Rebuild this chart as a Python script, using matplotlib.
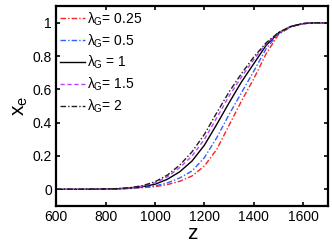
import numpy as np
import matplotlib
matplotlib.use('Agg')
from matplotlib import pyplot as plt

plt.rcParams['font.family'] = ['Liberation Sans', 'DejaVu Sans']
plt.rcParams['mathtext.fontset'] = 'custom'
plt.rcParams['mathtext.rm'] = 'Liberation Sans'
plt.rcParams['mathtext.it'] = 'Liberation Sans'

# values
z = [600, 700, 800, 850, 900, 950, 1000, 1050, 1100, 1150, 1200, 1250,
     1300, 1350, 1400, 1450, 1500, 1550, 1600, 1650, 1700]
xe_025 = [0, 0, 0.001, 0.002, 0.005, 0.010, 0.016, 0.028, 0.048, 0.080, 0.140,
          0.240, 0.385, 0.530, 0.665, 0.815, 0.930, 0.976, 0.995, 1.0, 1.0]
xe_05 = [0, 0, 0.001, 0.002, 0.006, 0.012, 0.020, 0.038, 0.068, 0.110, 0.190,
         0.310, 0.450, 0.580, 0.710, 0.845, 0.935, 0.978, 0.995, 1.0, 1.0]
xe_1 = [0, 0, 0.002, 0.003, 0.008, 0.016, 0.030, 0.060, 0.105, 0.170, 0.265,
        0.390, 0.520, 0.645, 0.755, 0.865, 0.940, 0.978, 0.995, 1.0, 1.0]
xe_15 = [0, 0, 0.002, 0.004, 0.009, 0.019, 0.038, 0.075, 0.130, 0.200, 0.300,
         0.430, 0.560, 0.675, 0.780, 0.875, 0.940, 0.978, 0.995, 1.0, 1.0]
xe_2 = [0, 0, 0.002, 0.004, 0.010, 0.022, 0.045, 0.085, 0.145, 0.225, 0.330,
        0.460, 0.585, 0.695, 0.795, 0.880, 0.942, 0.978, 0.995, 1.0, 1.0]

labels = [r'$\lambda_G$= 0.25', r'$\lambda_G$= 0.5', r'$\lambda_G$ = 1',
          r'$\lambda_G$= 1.5', r'$\lambda_G$= 2']
series = [xe_025, xe_05, xe_1, xe_15, xe_2]
colors = ['#ff2020', '#3060ff', 'black', '#c040ff', '#202020']
styles = [(0, (4, 1.5, 1, 1.5)), (0, (4, 1.5, 1, 1.5)), '-', (0, (3, 2)),
          (0, (4, 1.5, 1, 1.5))]

fig = plt.figure(figsize=(3.32, 2.44), dpi=100)
ax = fig.add_axes([0.169, 0.156, 0.819, 0.819])

for y, c, ls, lab in zip(series, colors, styles, labels):
    ax.plot(z, y, color=c, linestyle=ls, linewidth=1.0, label=lab)

ax.set_xlim(600, 1700)
ax.set_ylim(-0.1, 1.1)
ax.set_xticks([600, 800, 1000, 1200, 1400, 1600])
ax.set_yticks([0, 0.2, 0.4, 0.6, 0.8, 1])
ax.set_yticklabels(['0', '0.2', '0.4', '0.6', '0.8', '1'])
ax.tick_params(direction='in', top=True, right=True, length=3, width=1.2,
               labelsize=10, pad=3)
for s in ax.spines.values():
    s.set_linewidth(1.6)

ax.set_xlabel('z', fontsize=15, labelpad=0)
ax.set_ylabel(r'x$_\mathregular{e}$', fontsize=15, labelpad=2)

ax.legend(loc='upper left', frameon=False, fontsize=10, handlelength=1.8,
          handletextpad=0.1, labelspacing=0.32, borderaxespad=0.1,
          borderpad=0.2)

fig.savefig('out.png', dpi=100)
